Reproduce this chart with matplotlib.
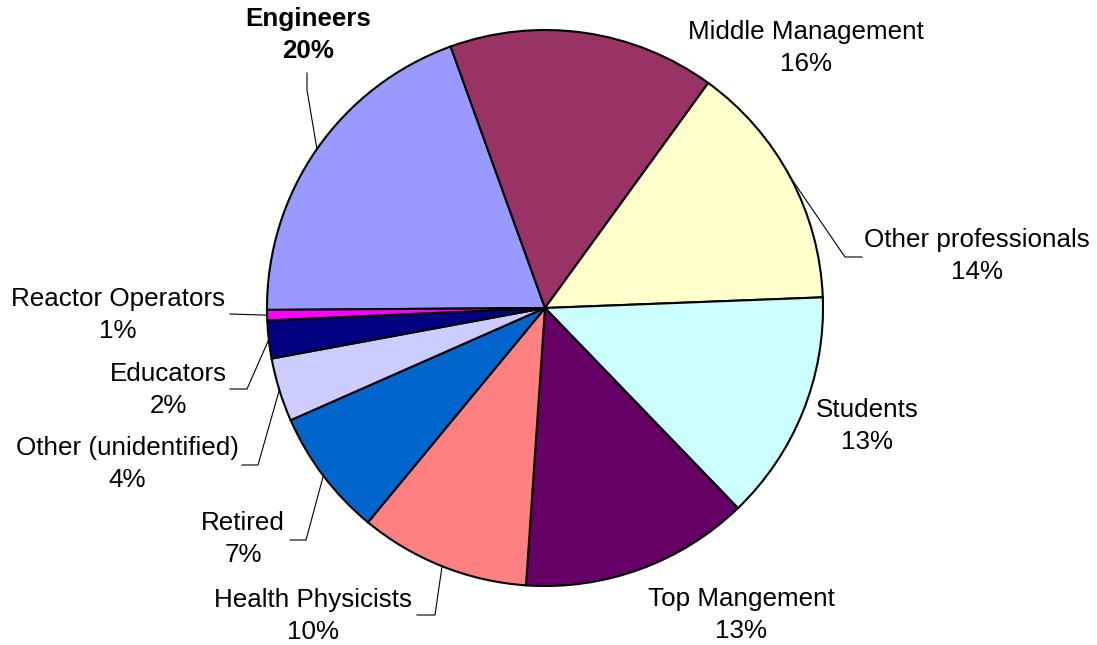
import numpy as np
from matplotlib import pyplot as plt

plt.rcParams["font.family"] = ["Liberation Sans", "DejaVu Sans"]

categories = [
    "Engineers",
    "Middle Management",
    "Other professionals",
    "Students",
    "Top Mangement",
    "Health Physicists",
    "Retired",
    "Other (unidentified)",
    "Educators",
    "Reactor Operators",
]
shares = [19.6, 15.5, 14.4, 13.4, 13.3, 9.9, 7.4, 3.7, 2.2, 0.6]
colors = [
    "#9999FF", "#993366", "#FFFFCC", "#CCFFFF", "#660066",
    "#FF8080", "#0066CC", "#CCCCFF", "#000080", "#FF00FF",
]

W, H = 1097, 645
cx, cy, R = 545, 308, 278  # pie centre and radius in pixels


def px(x, y):
    # pixel (from top-left) -> data coords of the pie axes
    return (x - cx) / R, (cy - y) / R


# label block centre and leader path (pixels); None = no leader
label_pos = [
    (308, 35), (806, 48), (977, 256), (867, 426), (741, 615),
    (313, 616), (243, 539), (127, 464), (168, 390), (118, 315),
]
leaders = [
    [(307, 73), (307, 90)],
    None,
    [(862, 257), (845, 257)],
    None,
    None,
    [(417, 615), (435, 615)],
    [(290, 540), (306, 540)],
    [(242, 465), (258, 465)],
    [(230, 389), (247, 389)],
    [(230, 314)],
]

fig = plt.figure(figsize=(W / 100, H / 100), dpi=100)
ax = fig.add_axes([0, 0, 1, 1])

wedges, _ = ax.pie(
    shares,
    colors=colors,
    startangle=180.4,
    counterclock=False,
    radius=1,
    wedgeprops=dict(edgecolor="black", linewidth=1.5),
)

total = sum(shares)
for i, (w, name) in enumerate(zip(wedges, categories)):
    pct = int(shares[i] / total * 100 + 0.5)
    x, y = px(*label_pos[i])
    ax.text(
        x, y, f"{name}\n{pct}%",
        ha="center", va="center", multialignment="center",
        fontsize=18.7, linespacing=1.42,
        fontweight="bold" if i == 0 else "normal",
    )
    if leaders[i] is not None:
        mid = np.radians((w.theta1 + w.theta2) / 2)
        pts = [px(*p) for p in leaders[i]] + [(np.cos(mid), np.sin(mid))]
        xs, ys = zip(*pts)
        ax.plot(xs, ys, color="black", linewidth=0.8)

ax.set_xlim(-cx / R, (W - cx) / R)
ax.set_ylim(-(H - cy) / R, cy / R)
ax.set_aspect("equal")
ax.axis("off")

fig.savefig("out.png", dpi=100)
